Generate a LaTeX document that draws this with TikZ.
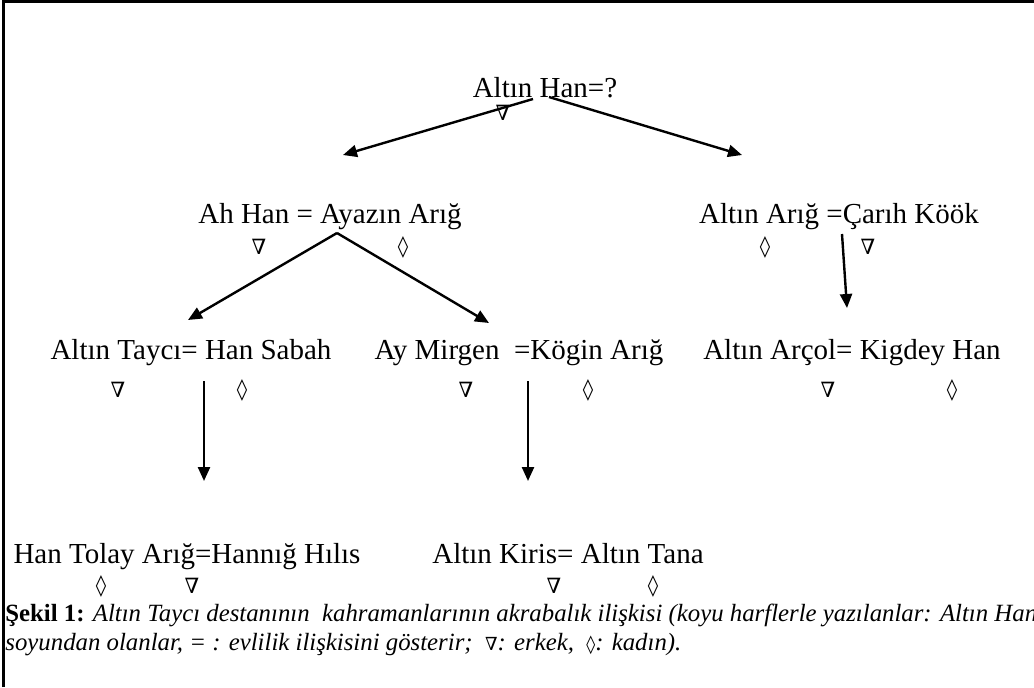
\documentclass[tikz,border=0pt]{standalone}
\usepackage{fontspec}
\setmainfont{Liberation Serif}
\newfontfamily\symfont{DejaVu Serif}
\usetikzlibrary{arrows.meta}

\tikzset{
  kisi/.style={font=\fontsize{14.5}{17}\selectfont, inner sep=0pt, anchor=base},
  cins/.style={font=\symfont\fontsize{10.5}{12}\selectfont, inner sep=0pt},
  ok/.style={line width=1.2pt, -{Triangle[length=7pt,width=6pt]}},
  alt/.style={font=\fontsize{12.4}{14}\selectfont, inner sep=0pt, anchor=base west},
}
\newcommand{\erk}{∇}
\newcommand{\kad}{◊}

\begin{document}
\begin{tikzpicture}[x=0.5pt,y=-0.5pt]
\useasboundingbox (0,0) rectangle (1034,687);
\draw[line width=1.5pt] (3,687) -- (3,1.5) -- (1034,1.5);

% kisiler
\node[kisi] (han)    at (545,97)   {Altın Han=?};
\node[kisi] (ahhan)  at (330,223)  {Ah Han = Ayazın Arığ};
\node[kisi] (arig)   at (839,223)  {Altın Arığ =Çarıh Köök};
\node[kisi] (tayci)  at (191,359)  {Altın Taycı= Han Sabah};
\node[kisi] (mirgen) at (519,359)  {Ay Mirgen~ =Kögin Arığ};
\node[kisi] (arcol)  at (852,359)  {Altın Arçol= Kigdey Han};
\node[kisi] (tolay)  at (187,563)  {Han Tolay Arığ=Hannığ Hılıs};
\node[kisi] (kiris)  at (568,563)  {Altın Kiris= Altın Tana};

% erkek / kadin
\node[cins] (s1)  at (503,113) {\erk};
\node[cins] (s2)  at (259,247) {\erk};
\node[cins] (s3)  at (403,247) {\kad};
\node[cins] (s4)  at (765,247) {\kad};
\node[cins] (s5)  at (868,247) {\erk};
\node[cins] (s6)  at (118,390) {\erk};
\node[cins] (s7)  at (242,390) {\kad};
\node[cins] (s8)  at (466,390) {\erk};
\node[cins] (s9)  at (588,390) {\kad};
\node[cins] (s10) at (828,390) {\erk};
\node[cins] (s11) at (952,390) {\kad};
\node[cins] (s12) at (101,586) {\kad};
\node[cins] (s13) at (192,586) {\erk};
\node[cins] (s14) at (554,586) {\erk};
\node[cins] (s15) at (653,586) {\kad};

% oklar
\coordinate (h1) at (533,99);   \coordinate (h2) at (549,97);
\coordinate (a1) at (343,155);  \coordinate (a2) at (742,155);
\coordinate (b0) at (337,233);
\coordinate (b1) at (188,320);  \coordinate (b2) at (489,323);
\coordinate (c0) at (842,234);  \coordinate (c1) at (847,308);
\coordinate (d0) at (204,381);  \coordinate (d1) at (204,481);
\coordinate (e0) at (528,381);  \coordinate (e1) at (528,481);

\draw[ok] (h1) -- (a1);
\draw[ok] (h2) -- (a2);
\draw[ok] (b0) -- (b1);
\draw[ok] (b0) -- (b2);
\draw[ok] (c0) -- (c1);
\draw[ok] (d0) -- (d1);
\draw[ok] (e0) -- (e1);

% sekil yazisi
\node[alt] (cap1) at (5,621) {\textbf{Şekil 1:} \textit{Altın Taycı destanının\ \ kahramanlarının akrabalık ilişkisi (koyu harflerle yazılanlar: Altın Han}};
\node[alt] (cap2) at (5,650) {\textit{soyundan olanlar, = : evlilik ilişkisini gösterir;\ \ {\symfont\fontsize{9}{10}\selectfont\erk}: erkek,\ \ {\symfont\fontsize{9}{10}\selectfont\kad}: kadın).}};
\end{tikzpicture}
\end{document}
